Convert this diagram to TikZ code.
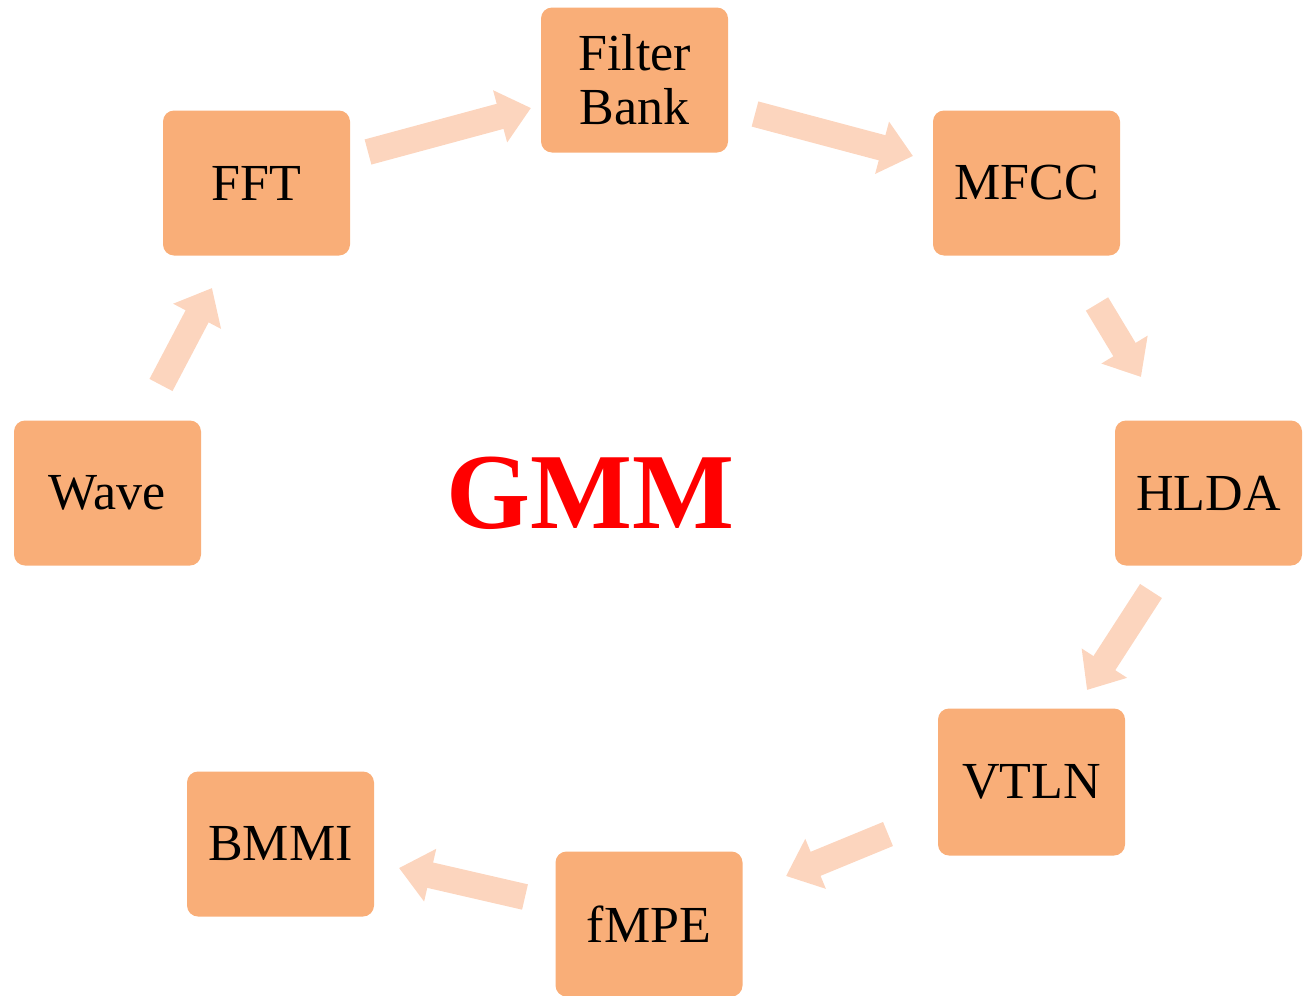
\documentclass[tikz,border=0pt]{standalone}
\usepackage{fontspec}
\setmainfont{Liberation Serif}
\usetikzlibrary{arrows.meta}
\definecolor{boxfill}{HTML}{F9AE78}
\definecolor{arrowfill}{HTML}{FCD5BE}
\definecolor{gmmred}{HTML}{FF0000}
\tikzset{
  stage/.style={fill=boxfill, draw=none, rounded corners=11pt,
    minimum width=187pt, minimum height=145pt, inner sep=0pt,
    align=center, font=\fontsize{52}{54}\selectfont},
  flow/.style={draw=arrowfill, line width=26pt,
    -{Triangle[width=52pt,length=32pt]}, arrowfill},
}
\begin{document}
\begin{tikzpicture}[x=1pt,y=-1pt]
  \useasboundingbox (0,0) rectangle (1307,996);
  % processing stages
  \node[stage] (filter) at (634.5,80)  {Filter\\Bank};
  \node[stage] (fft)    at (256.5,183) {FFT};
  \node[stage] (mfcc)   at (1026.5,183) {MFCC};
  \node[stage] (wave)   at (107.5,493) {Wave};
  \node[stage] (hlda)   at (1208.5,493) {HLDA};
  \node[stage, minimum height=147pt] (vtln) at (1031.5,782) {VTLN};
  \node[stage] (fmpe)   at (649,924)   {fMPE};
  \node[stage] (bmmi)   at (280.5,844) {BMMI};
  % centre title
  \node[text=gmmred, font=\fontsize{108}{112}\selectfont\bfseries] (gmm) at (590,493) {GMM};
  % arrow end points
  \coordinate (a1s) at (161,385);  \coordinate (a1e) at (212,288);
  \coordinate (a2s) at (368,152);  \coordinate (a2e) at (531,108);
  \coordinate (a3s) at (755,114);  \coordinate (a3e) at (913,156);
  \coordinate (a4s) at (1097,304); \coordinate (a4e) at (1141,377);
  \coordinate (a5s) at (1151,591); \coordinate (a5e) at (1087,690);
  \coordinate (a6s) at (888,834);  \coordinate (a6e) at (786,876);
  \coordinate (a7s) at (525,897);  \coordinate (a7e) at (399,868);
  % connectors
  \draw[flow] (a1s) -- (a1e);
  \draw[flow] (a2s) -- (a2e);
  \draw[flow] (a3s) -- (a3e);
  \draw[flow] (a4s) -- (a4e);
  \draw[flow] (a5s) -- (a5e);
  \draw[flow] (a6s) -- (a6e);
  \draw[flow] (a7s) -- (a7e);
\end{tikzpicture}
\end{document}
